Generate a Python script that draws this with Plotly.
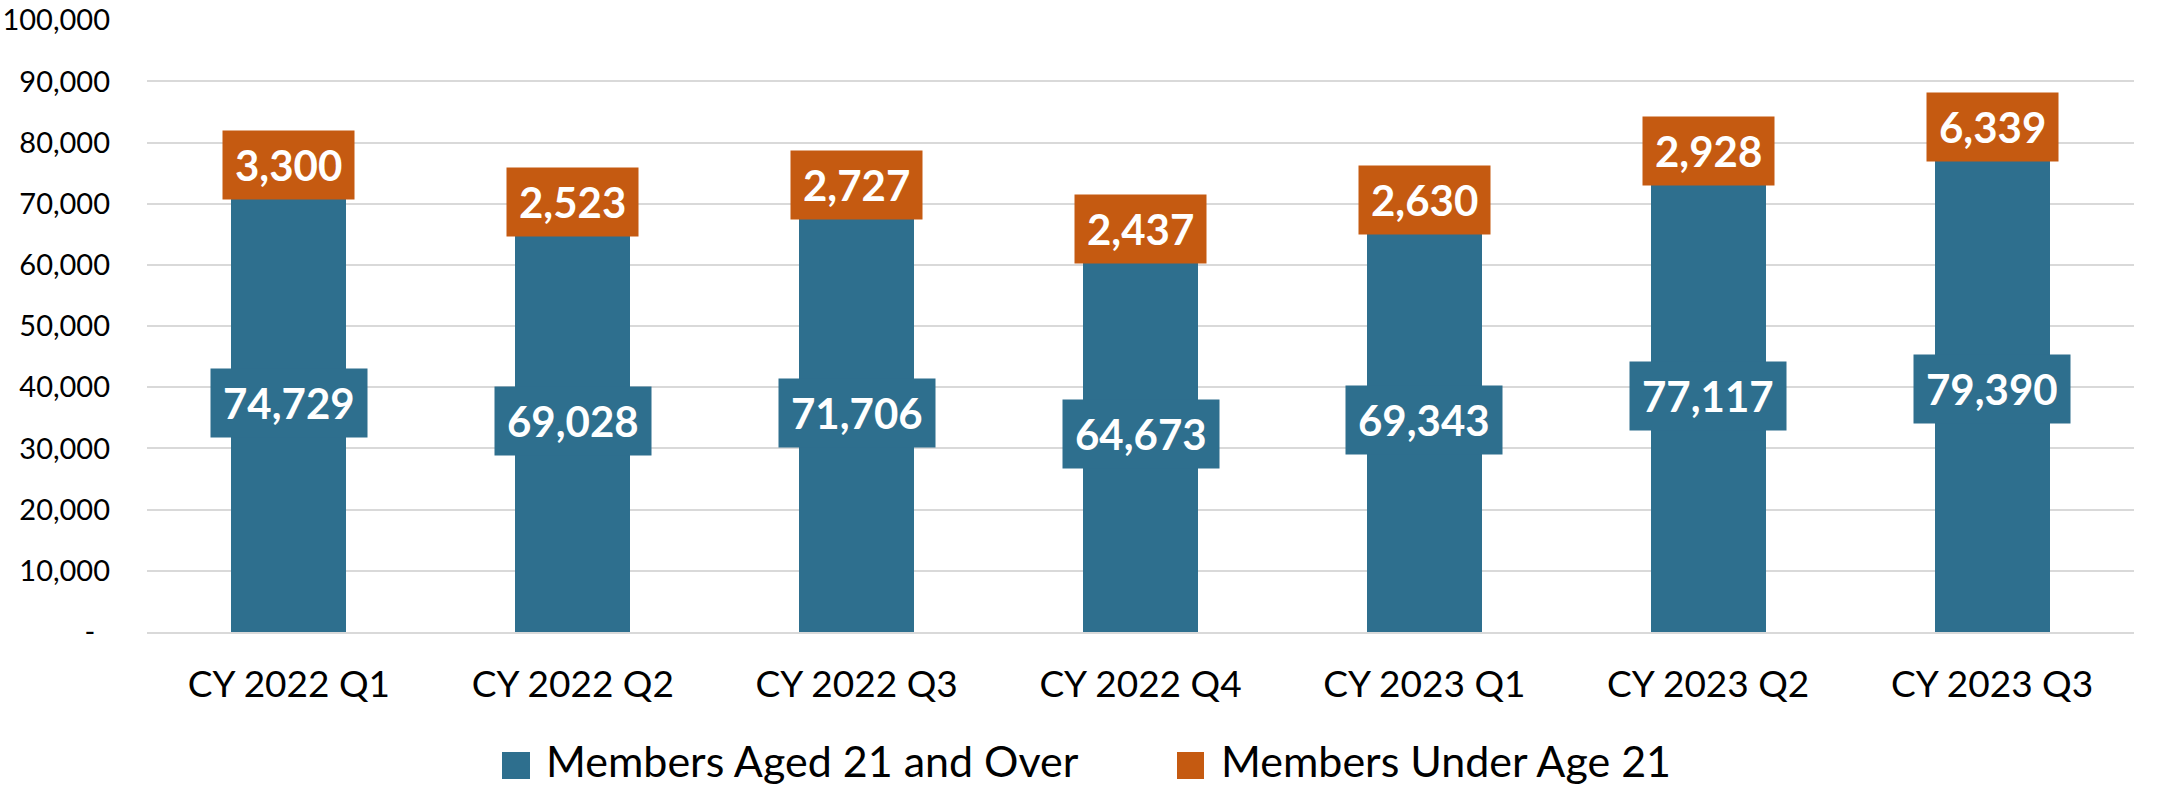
import plotly.graph_objects as go

categories = ["CY 2022 Q1", "CY 2022 Q2", "CY 2022 Q3", "CY 2022 Q4",
              "CY 2023 Q1", "CY 2023 Q2", "CY 2023 Q3"]
aged_21_over = [74729, 69028, 71706, 64673, 69343, 77117, 79390]
under_21 = [3300, 2523, 2727, 2437, 2630, 2928, 6339]
series_names = ["Members Aged 21 and Over", "Members Under Age 21"]
y_tickvals = [0, 10000, 20000, 30000, 40000, 50000, 60000, 70000, 80000, 90000, 100000]
y_ticktext = ["-\u00a0\u00a0", "10,000", "20,000", "30,000", "40,000", "50,000",
              "60,000", "70,000", "80,000", "90,000", "100,000"]

BLUE = "#2E6F8E"
ORANGE = "#C55A11"
FONT = "Lato, 'Open Sans', sans-serif"

W, H = 2160, 788
ML, MT = 147, 20
MR = W - 2134
MB = H - 632
PW = W - ML - MR
PH = H - MT - MB

fig = go.Figure()
fig.add_trace(go.Bar(x=categories, y=aged_21_over, name=series_names[0],
                     marker=dict(color=BLUE, line=dict(width=0)), showlegend=False,
                     hoverinfo="skip"))
fig.add_trace(go.Bar(x=categories, y=under_21, name=series_names[1],
                     marker=dict(color=ORANGE, line=dict(width=0)), showlegend=False,
                     hoverinfo="skip"))

annotations = []
for c, a, u in zip(categories, aged_21_over, under_21):
    annotations.append(dict(x=c, y=a / 2, xref="x", yref="y", text=f"{a:,}",
                            showarrow=False, bgcolor=BLUE, borderpad=12, height=44,
                            font=dict(family=FONT, size=42, color="white", weight="bold")))
    annotations.append(dict(x=c, y=a + u / 2, xref="x", yref="y", text=f"{u:,}",
                            showarrow=False, bgcolor=ORANGE, borderpad=12, height=44,
                            font=dict(family=FONT, size=42, color="white", weight="bold")))

def px_x(p):
    return (p - ML) / PW

def px_y(p):
    return (H - MB - p) / PH

shapes = []
legend_items = [(502, 530, 544, BLUE, series_names[0]),
                (1177, 1204, 1219, ORANGE, series_names[1])]
for x0, x1, tx, col, name in legend_items:
    shapes.append(dict(type="rect", xref="paper", yref="paper",
                       x0=px_x(x0), x1=px_x(x1), y0=px_y(779), y1=px_y(752),
                       fillcolor=col, line=dict(width=0)))
    annotations.append(dict(x=px_x(tx), y=px_y(760), xref="paper", yref="paper",
                            text=name, showarrow=False, xanchor="left", yanchor="middle",
                            font=dict(family=FONT, size=43, color="#000000")))

fig.update_layout(
    width=W, height=H,
    margin=dict(l=ML, r=MR, t=MT, b=MB, autoexpand=False),
    barmode="stack",
    bargap=0.595,
    plot_bgcolor="white",
    paper_bgcolor="white",
    showlegend=False,
    annotations=annotations,
    shapes=shapes,
    font=dict(family=FONT, color="#000000"),
)
fig.update_yaxes(range=[0, 100040], tickvals=y_tickvals, ticktext=y_ticktext,
                 showgrid=True, gridcolor="#D9D9D9", gridwidth=2,
                 zeroline=False, showline=False, automargin=False,
                 ticks="", ticklabelstandoff=36,
                 tickfont=dict(family=FONT, size=29, color="#000000"))
fig.update_xaxes(showgrid=False, showline=True, linecolor="#D9D9D9", linewidth=2,
                 automargin=False,
                 ticks="outside", ticklen=19, tickcolor="rgba(0,0,0,0)",
                 tickfont=dict(family=FONT, size=37, color="#000000"))

fig.write_html("out.html", config={"displayModeBar": False},
               post_script="document.body.style.margin='0';document.body.style.overflow='hidden';")
